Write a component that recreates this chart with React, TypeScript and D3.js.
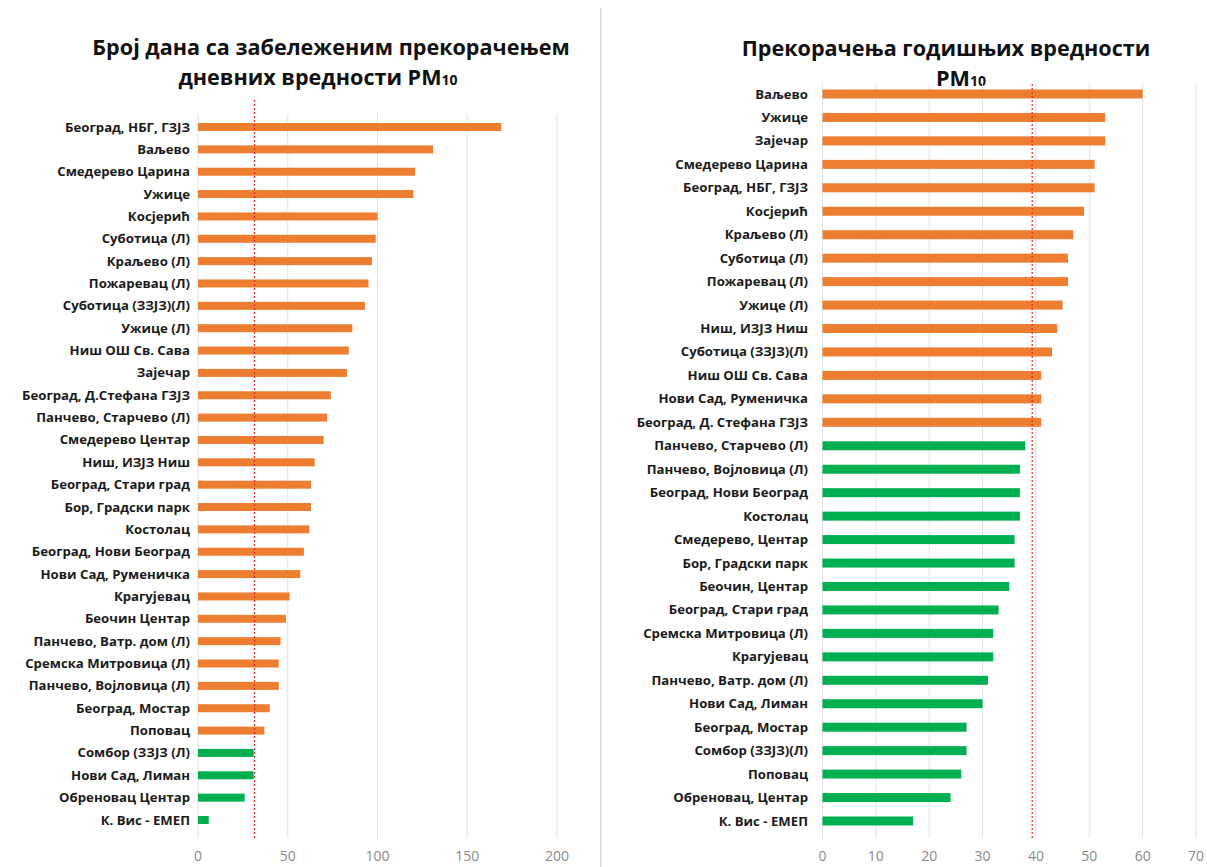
import React from "react";
import * as d3 from "d3";

// ---------- Left panel data: number of days exceeding daily PM10 limit ----------
const dailyStations = [
  "Београд, НБГ, ГЗЈЗ",
  "Ваљево",
  "Смедерево Царина",
  "Ужице",
  "Косјерић",
  "Суботица (Л)",
  "Краљево (Л)",
  "Пожаревац (Л)",
  "Суботица (ЗЗЈЗ)(Л)",
  "Ужице (Л)",
  "Ниш ОШ Св. Сава",
  "Зајечар",
  "Београд, Д.Стефана ГЗЈЗ",
  "Панчево, Старчево (Л)",
  "Смедерево Центар",
  "Ниш, ИЗЈЗ Ниш",
  "Београд, Стари град",
  "Бор, Градски парк",
  "Костолац",
  "Београд, Нови Београд",
  "Нови Сад, Руменичка",
  "Крагујевац",
  "Беочин Центар",
  "Панчево, Ватр. дом (Л)",
  "Сремска Митровица (Л)",
  "Панчево, Војловица (Л)",
  "Београд, Мостар",
  "Поповац",
  "Сомбор (ЗЗЈЗ (Л)",
  "Нови Сад, Лиман",
  "Обреновац Центар",
  "К. Вис - ЕМЕП",
];
const dailyValues = [
  169, 131, 121, 120, 100, 99, 97, 95, 93, 86, 84, 83, 74, 72, 70, 65, 63, 63,
  62, 59, 57, 51, 49, 46, 45, 45, 40, 37, 31, 31, 26, 6,
];
const dailyTicks = [0, 50, 100, 150, 200];
const dailyThreshold = 31.5;
const dailyTitle = ["Број дана са забележеним прекорачењем", "дневних вредности "];

// ---------- Right panel data: annual mean PM10 ----------
const annualStations = [
  "Ваљево",
  "Ужице",
  "Зајечар",
  "Смедерево Царина",
  "Београд, НБГ, ГЗЈЗ",
  "Косјерић",
  "Краљево (Л)",
  "Суботица (Л)",
  "Пожаревац (Л)",
  "Ужице (Л)",
  "Ниш, ИЗЈЗ Ниш",
  "Суботица (ЗЗЈЗ)(Л)",
  "Ниш ОШ Св. Сава",
  "Нови Сад, Руменичка",
  "Београд, Д. Стефана ГЗЈЗ",
  "Панчево, Старчево (Л)",
  "Панчево, Војловица (Л)",
  "Београд, Нови Београд",
  "Костолац",
  "Смедерево, Центар",
  "Бор, Градски парк",
  "Беочин, Центар",
  "Београд, Стари град",
  "Сремска Митровица (Л)",
  "Крагујевац",
  "Панчево, Ватр. дом (Л)",
  "Нови Сад, Лиман",
  "Београд, Мостар",
  "Сомбор (ЗЗЈЗ)(Л)",
  "Поповац",
  "Обреновац, Центар",
  "К. Вис - ЕМЕП",
];
const annualValues = [
  60, 53, 53, 51, 51, 49, 47, 46, 46, 45, 44, 43, 41, 41, 41, 38, 37, 37, 37,
  36, 36, 35, 33, 32, 32, 31, 30, 27, 27, 26, 24, 17,
];
const annualTicks = [0, 10, 20, 30, 40, 50, 60, 70];
const annualThreshold = 39.3;
const annualTitle = ["Прекорачења годишњих вредности", ""];

const ORANGE = "#ED7D31";
const GREEN = "#00B050";
const FONT = "'Open Sans', 'Noto Sans', sans-serif";

type PanelProps = {
  stations: string[];
  values: number[];
  ticks: number[];
  threshold: number;
  colorLimit: number;
  xRange: [number, number];
  yRange: [number, number];
  gridTop: number;
  redTop: number;
  barH: number;
  labelX: number;
  title: string[];
  titleX: number[];
  titleY: number[];
};

function Panel(p: PanelProps) {
  const x = d3
    .scaleLinear()
    .domain([p.ticks[0], p.ticks[p.ticks.length - 1]])
    .range(p.xRange);
  const y = d3.scalePoint<string>().domain(p.stations).range(p.yRange);
  const gridBottom = 838;
  return (
    <g>
      <text
        x={p.titleX[0]}
        y={p.titleY[0]}
        textAnchor="middle"
        fontFamily={FONT}
        fontWeight={700}
        fontSize={21.6}
        fill="#111"
      >
        {p.title[0]}
      </text>
      <text
        x={p.titleX[1]}
        y={p.titleY[1]}
        textAnchor="middle"
        fontFamily={FONT}
        fontWeight={700}
        fontSize={21.6}
        fill="#111"
      >
        {p.title[1]}PM
        <tspan fontSize={14}>10</tspan>
      </text>
      {p.ticks.map((t) => (
        <g key={t}>
          <line
            x1={x(t)}
            x2={x(t)}
            y1={p.gridTop}
            y2={gridBottom}
            stroke="#e2e2e2"
            strokeWidth={1}
          />
          <text
            x={x(t)}
            y={861}
            textAnchor="middle"
            fontFamily={FONT}
            fontSize={14}
            fill="#8a8a8a"
          >
            {t}
          </text>
        </g>
      ))}
      {p.stations.map((s, i) => (
        <g key={s + i}>
          <rect
            x={x(0)}
            y={(y(s) as number) - p.barH / 2}
            width={x(p.values[i]) - x(0)}
            height={p.barH}
            fill={p.values[i] > p.colorLimit ? ORANGE : GREEN}
          />
          <text
            x={p.labelX}
            y={(y(s) as number) + 4.5}
            textAnchor="end"
            fontFamily={FONT}
            fontWeight={700}
            fontSize={13.2}
            fill="#1a1a1a"
          >
            {s}
          </text>
        </g>
      ))}
      <line
        x1={x(p.threshold)}
        x2={x(p.threshold)}
        y1={p.redTop}
        y2={gridBottom}
        stroke="#E0302A"
        strokeWidth={1.3}
        strokeDasharray="2,2"
      />
    </g>
  );
}

export default function App() {
  return (
    <svg
      width={1207}
      height={867}
      style={{ position: "absolute", left: 0, top: 0, background: "#fff" }}
    >
      <rect width={1207} height={867} fill="#fff" />
      <line x1={601} x2={601} y1={8} y2={867} stroke="#d6d6d6" strokeWidth={1.5} />
      <Panel
        stations={dailyStations}
        values={dailyValues}
        ticks={dailyTicks}
        threshold={dailyThreshold}
        colorLimit={35}
        xRange={[198, 557]}
        yRange={[127, 820]}
        gridTop={114}
        redTop={100}
        barH={8}
        labelX={190}
        title={dailyTitle}
        titleX={[331, 318]}
        titleY={[55, 85]}
      />
      <Panel
        stations={annualStations}
        values={annualValues}
        ticks={annualTicks}
        threshold={annualThreshold}
        colorLimit={40}
        xRange={[822.5, 1196]}
        yRange={[94, 821]}
        gridTop={83}
        redTop={84}
        barH={9}
        labelX={808}
        title={annualTitle}
        titleX={[946, 961]}
        titleY={[56, 86]}
      />
    </svg>
  );
}
